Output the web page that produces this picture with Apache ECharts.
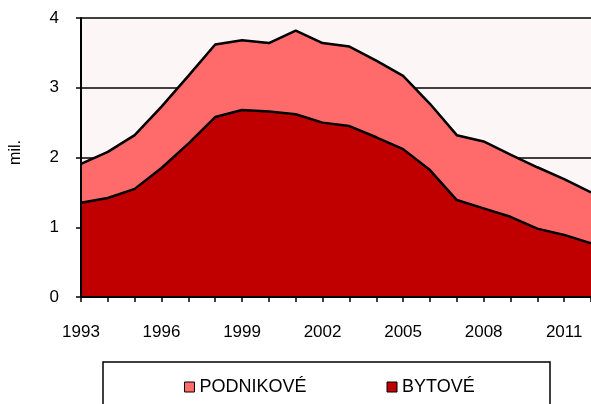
<!DOCTYPE html>
<html>
<head>
<meta charset="utf-8">
<script src="https://cdn.jsdelivr.net/npm/echarts@6/dist/echarts.min.js"></script>
<style>
html, body { margin: 0; padding: 0; background: #fff; }
#main { width: 591px; height: 404px; }
</style>
</head>
<body>
<div id="main"></div>
<script type="text/javascript">
// roky
var years = ['1993','1994','1995','1996','1997','1998','1999','2000','2001','2002',
	'2003','2004','2005','2006','2007','2008','2009','2010','2011','2012'];
// bytové (mil.)
var bytove = [1.35, 1.42, 1.55, 1.85, 2.20, 2.58, 2.68, 2.66, 2.62, 2.50,
	2.45, 2.29, 2.12, 1.82, 1.39, 1.27, 1.15, 0.98, 0.89, 0.77];
// podnikové (mil.), nad bytovými
var podnikove = [0.56, 0.66, 0.77, 0.88, 0.97, 1.04, 1.00, 0.98, 1.20, 1.14,
	1.14, 1.10, 1.05, 0.95, 0.93, 0.96, 0.89, 0.88, 0.80, 0.73];
var yTicks = [0, 1, 2, 3, 4];

var font = "'Liberation Sans', Arial, sans-serif";
var chart = echarts.init(document.getElementById('main'));

chart.setOption({
	animation: false,
	grid: {
		left: 81, right: -4, top: 18, bottom: 107,
		show: true, backgroundColor: '#fdf6f6', borderWidth: 0
	},
	legend: {
		data: ['PODNIKOVÉ', 'BYTOVÉ'],
		left: 179, top: 373,
		itemWidth: 10, itemHeight: 10, itemGap: 80,
		icon: 'rect',
		itemStyle: { borderColor: '#000', borderWidth: 1 },
		textStyle: { fontFamily: font, fontSize: 18, color: '#000' }
	},
	graphic: [{
		type: 'rect',
		shape: { x: 103, y: 362, width: 447, height: 60 },
		style: { fill: 'none', stroke: '#000', lineWidth: 1.5 },
		silent: true
	}, {
		type: 'text',
		left: 8, top: 140,
		rotation: Math.PI / 2,
		style: { text: 'mil.', font: '16px ' + font, fill: '#000' }
	}],
	xAxis: {
		type: 'category',
		data: years,
		boundaryGap: false,
		axisLine: { lineStyle: { color: '#000', width: 2 } },
		axisTick: { interval: 0, length: 5, lineStyle: { color: '#000', width: 1.5 } },
		axisLabel: { interval: 2, margin: 27, fontFamily: font, fontSize: 17, color: '#000' },
		z: 5
	},
	yAxis: [{
		// mřížka pod plochami
		type: 'value',
		min: yTicks[0], max: yTicks[yTicks.length - 1], interval: 1,
		axisLine: { show: false },
		axisTick: { show: false },
		axisLabel: { show: false },
		splitLine: { lineStyle: { color: '#000', width: 1.5 } }
	}, {
		// osa s popisky nad plochami
		type: 'value',
		position: 'left',
		min: yTicks[0], max: yTicks[yTicks.length - 1], interval: 1,
		axisLine: { show: true, lineStyle: { color: '#000', width: 2 } },
		axisTick: { show: true, length: 5, lineStyle: { color: '#000', width: 1.5 } },
		axisLabel: { margin: 22, fontFamily: font, fontSize: 17, color: '#000' },
		splitLine: { show: false },
		z: 5
	}],
	series: [{
		name: 'BYTOVÉ',
		type: 'line',
		stack: 'total',
		data: bytove,
		symbol: 'none',
		color: '#c00000',
		lineStyle: { color: '#000', width: 2.5 },
		areaStyle: { color: '#c00000', opacity: 1 }
	}, {
		name: 'PODNIKOVÉ',
		type: 'line',
		stack: 'total',
		data: podnikove,
		symbol: 'none',
		color: '#ff6b6b',
		lineStyle: { color: '#000', width: 2.5 },
		areaStyle: { color: '#ff6b6b', opacity: 1 }
	}]
});
</script>
</body>
</html>
